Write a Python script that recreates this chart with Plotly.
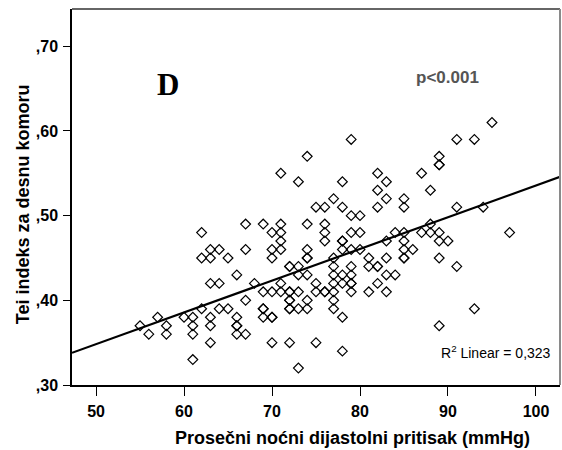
import numpy as np
import plotly.graph_objects as go

# Nocturnal diastolic pressure (mmHg) and right-ventricle Tei index, one pair per patient
pressure = [
    55, 56, 57, 58, 58, 60, 61, 61, 61, 61,
    62, 62, 62, 63, 63, 63, 63, 63, 63, 64, 64, 64, 65, 65,
    66, 66, 66, 66, 66, 67, 67, 67, 67, 68,
    69, 69, 69, 69, 69, 70, 70, 70, 70, 70, 70, 70,
    71, 71, 71, 71, 71, 71, 71,
    72, 72, 72, 72, 72, 72, 72, 72, 72,
    73, 73, 73, 73, 73, 73,
    74, 74, 74, 74, 74, 74, 74, 74,
    75, 75, 75, 75,
    76, 76, 76, 76, 76, 76,
    77, 77, 77, 77, 77, 77, 77, 77,
    78, 78, 78, 78, 78, 78, 78, 78, 78,
    79, 79, 79, 79, 79, 79, 79, 79, 79,
    80, 80, 80,
    81, 81, 81,
    82, 82, 82, 82, 82, 82,
    83, 83, 83, 83, 83, 83,
    84, 84,
    85, 85, 85, 85, 85, 85, 85,
    86, 87, 87, 88, 88, 88,
    89, 89, 89, 89, 89, 89, 89,
    90, 91, 91, 91, 93, 93, 94, 95, 97,
]
tei_index = [
    0.37, 0.36, 0.38, 0.37, 0.36, 0.38, 0.38, 0.37, 0.36, 0.33,
    0.48, 0.45, 0.39, 0.46, 0.45, 0.42, 0.38, 0.37, 0.35, 0.46, 0.42, 0.39, 0.45, 0.39,
    0.43, 0.38, 0.37, 0.37, 0.36, 0.49, 0.46, 0.40, 0.36, 0.42,
    0.49, 0.41, 0.39, 0.39, 0.38, 0.48, 0.46, 0.45, 0.41, 0.38, 0.38, 0.35,
    0.55, 0.49, 0.48, 0.47, 0.46, 0.42, 0.41,
    0.44, 0.44, 0.41, 0.41, 0.40, 0.40, 0.39, 0.39, 0.35,
    0.54, 0.44, 0.43, 0.41, 0.39, 0.32,
    0.57, 0.49, 0.46, 0.45, 0.45, 0.43, 0.40, 0.39,
    0.51, 0.42, 0.41, 0.35,
    0.51, 0.49, 0.48, 0.47, 0.41, 0.41,
    0.52, 0.45, 0.44, 0.43, 0.42, 0.41, 0.40, 0.39,
    0.54, 0.51, 0.47, 0.47, 0.46, 0.43, 0.42, 0.38, 0.34,
    0.59, 0.50, 0.48, 0.46, 0.44, 0.43, 0.42, 0.42, 0.41,
    0.50, 0.48, 0.46,
    0.45, 0.44, 0.41,
    0.55, 0.53, 0.51, 0.44, 0.44, 0.42,
    0.54, 0.52, 0.47, 0.45, 0.43, 0.41,
    0.48, 0.43,
    0.52, 0.51, 0.48, 0.47, 0.46, 0.45, 0.45,
    0.46, 0.55, 0.48, 0.53, 0.49, 0.48,
    0.57, 0.56, 0.56, 0.48, 0.47, 0.45, 0.37,
    0.47, 0.59, 0.51, 0.44, 0.59, 0.39, 0.51, 0.61, 0.48,
]

x_ticks = [50, 60, 70, 80, 90, 100]
y_ticks = [0.30, 0.40, 0.50, 0.60, 0.70]
y_tick_text = [",30", ",40", ",50", ",60", ",70"]

x_range = [47.27, 102.73]
y_range = [0.30, 0.744]

# least-squares line through the scatter
slope, intercept = np.polyfit(pressure, tei_index, 1)
fit_x = np.array(x_range)
fit_y = intercept + slope * fit_x

fig = go.Figure()

fig.add_trace(go.Scatter(
    x=fit_x, y=fit_y, mode="lines",
    line=dict(color="black", width=2.2),
    hoverinfo="skip", showlegend=False,
))

fig.add_trace(go.Scatter(
    x=pressure, y=tei_index, mode="markers",
    marker=dict(symbol="diamond-open", size=7.5, color="black",
                line=dict(color="black", width=1.2)),
    showlegend=False,
))

bold_tick = dict(family="Liberation Sans", size=16, color="black", weight="bold")

fig.update_xaxes(
    range=x_range, tickvals=x_ticks, ticktext=[str(v) for v in x_ticks],
    showgrid=False, zeroline=False,
    showline=True, linecolor="black", linewidth=1.5,
    ticks="outside", ticklen=9, tickwidth=1.2, tickcolor="black",
    tickfont=bold_tick, ticklabelstandoff=2,
)
fig.update_yaxes(
    range=y_range, tickvals=y_ticks, ticktext=y_tick_text,
    showgrid=False, zeroline=False,
    showline=True, linecolor="black", linewidth=1.5,
    ticks="outside", ticklen=7, tickwidth=1.2, tickcolor="black",
    tickfont=bold_tick, ticklabelstandoff=2,
)

# top and right frame edges
fig.add_shape(type="line", xref="paper", yref="paper", x0=0, x1=1, y0=1, y1=1,
              line=dict(color="#333333", width=1.6))
fig.add_shape(type="line", xref="paper", yref="paper", x0=1, x1=1, y0=0, y1=1,
              line=dict(color="#8a8a8a", width=2))


def note(text, x, y, font, **kw):
    return dict(text=text, x=x, y=y, xref="paper", yref="paper",
                xanchor="center", yanchor="middle", showarrow=False,
                font=font, **kw)


annotations = [
    note("D", 0.1957, 0.798,
         dict(family="Liberation Serif", size=31, color="black", weight="bold")),
    note("p<0.001", 0.770, 0.819,
         dict(family="Liberation Sans", size=17, color="#555555", weight="bold")),
    note("R<sup>2</sup> Linear = 0,323", 0.869, 0.088,
         dict(family="Liberation Sans", size=14, color="black")),
    note("Prosečni noćni dijastolni pritisak (mmHg)", 0.574, -0.141,
         dict(family="Liberation Sans", size=18, color="black", weight="bold")),
    note("Tei indeks za desnu komoru", -0.1004, 0.481,
         dict(family="Liberation Sans", size=18, color="black", weight="bold"),
         textangle=-90),
]

fig.update_layout(
    width=562, height=450,
    margin=dict(l=72, r=2, t=9, b=65),
    paper_bgcolor="white", plot_bgcolor="white",
    annotations=annotations,
)

fig.write_html("out.html")
